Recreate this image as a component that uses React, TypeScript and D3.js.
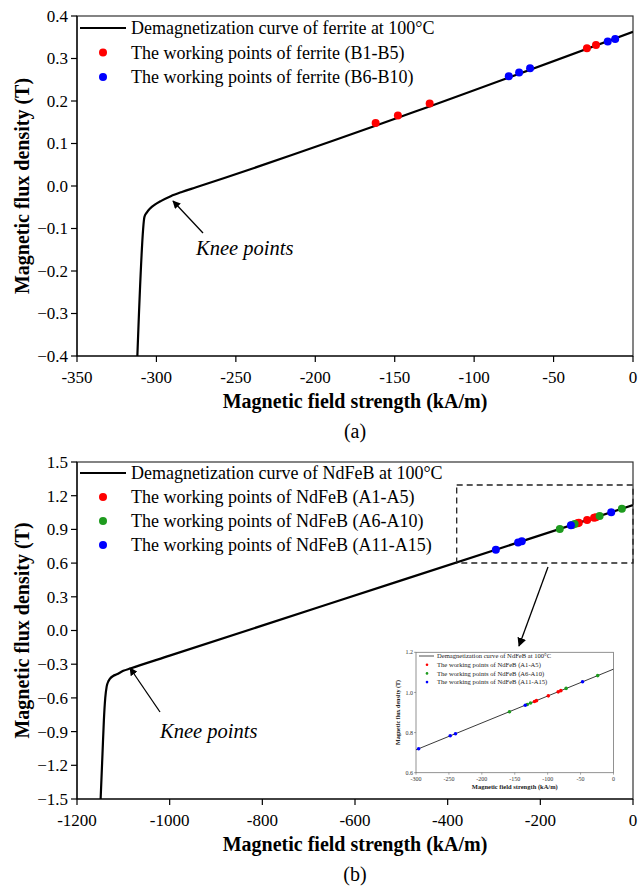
import React from "react";
import * as d3 from "d3";

// ---------- DATA ----------
// (a) ferrite
const ferriteCurveH = [-312, -307.5, -306, -304, -301, -297, -291, -284, -275, 0];
const ferriteCurveB = [-0.4, -0.072, -0.062, -0.053, -0.044, -0.035, -0.024, -0.014, -0.003, 0.363];
const ferriteB1H = [-162, -148, -128, -29, -23.3];
const ferriteB1B = [0.148, 0.166, 0.194, 0.324, 0.332];
const ferriteB6H = [-78.2, -71.7, -64.8, -15.9, -11.2];
const ferriteB6B = [0.258, 0.267, 0.277, 0.34, 0.346];
const ferriteXTicks = [-350, -300, -250, -200, -150, -100, -50, 0];
const ferriteYTicks = [-0.4, -0.3, -0.2, -0.1, 0.0, 0.1, 0.2, 0.3, 0.4];

// (b) NdFeB
const ndCurveH = [-1149, -1145, -1142, -1139, -1136, -1132, -1128, -1122, -1114, -1100, -1085, -1000, -500, 0];
const ndCurveB = [-1.5, -1.1, -0.8, -0.6, -0.5, -0.45, -0.425, -0.405, -0.39, -0.359, -0.338, -0.224, 0.446, 1.116];
const ndA1H = [-120, -117, -99, -84, -80];
const ndA1B = [0.955, 0.959, 0.983, 1.003, 1.009];
const ndA6H = [-158, -131, -126, -72, -24];
const ndA6B = [0.904, 0.94, 0.947, 1.02, 1.084];
const ndA11H = [-296, -248, -240, -134, -47];
const ndA11B = [0.719, 0.784, 0.794, 0.936, 1.053];
const ndXTicks = [-1200, -1000, -800, -600, -400, -200, 0];
const ndYTicks = [-1.5, -1.2, -0.9, -0.6, -0.3, 0.0, 0.3, 0.6, 0.9, 1.2, 1.5];
const insetXTicks = [-300, -250, -200, -150, -100, -50, 0];
const insetYTicks = [0.6, 0.8, 1.0, 1.2];

const legendA = [
  "Demagnetization curve of ferrite at 100\u00b0C",
  "The working points of ferrite (B1-B5)",
  "The working points of ferrite (B6-B10)",
];
const legendB = [
  "Demagnetization curve of NdFeB at 100\u00b0C",
  "The working points of NdFeB (A1-A5)",
  "The working points of NdFeB (A6-A10)",
  "The working points of NdFeB (A11-A15)",
];

const FONT = "'Liberation Serif', 'Times New Roman', serif";
const RED = "#ff0000";
const GREEN = "#1e9b1e";
const BLUE = "#0000ff";

type Series = { h: number[]; b: number[]; color: string };

function zip(h: number[], b: number[]): [number, number][] {
  return h.map((v, i) => [v, b[i]]);
}

function Panel(props: {
  x0: number; x1: number; y0: number; y1: number;
  xDomain: [number, number]; yDomain: [number, number];
  xTicks: number[]; yTicks: number[];
  curveH: number[]; curveB: number[];
  series: Series[];
  legend: string[];
  legendY0: number; legendStep: number;
  knee: { tx: number; ty: number; hx: number; hy: number; lx: number; ly: number };
  label: string;
  id: string;
}) {
  const { x0, x1, y0, y1 } = props;
  const x = d3.scaleLinear().domain(props.xDomain).range([x0, x1]);
  const y = d3.scaleLinear().domain(props.yDomain).range([y1, y0]);
  const line = d3.line<[number, number]>().x((d) => x(d[0])).y((d) => y(d[1])).curve(d3.curveMonotoneX);
  const path = line(zip(props.curveH, props.curveB)) || "";
  const fmt = d3.format(".1f");
  const k = props.knee;
  const colors = props.series.map((s) => s.color);
  return (
    <g>
      <defs>
        <clipPath id={props.id + "clip"}>
          <rect x={x0} y={y0} width={x1 - x0} height={y1 - y0} />
        </clipPath>
      </defs>
      <rect x={x0} y={y0} width={x1 - x0} height={y1 - y0} fill="none" stroke="#333" strokeWidth={1.2} />
      {props.xTicks.map((t) => (
        <g key={"x" + t}>
          <line x1={x(t)} x2={x(t)} y1={y1} y2={y1 + 6} stroke="#000" strokeWidth={1.2} />
          <text x={x(t)} y={y1 + 27} textAnchor="middle" fontSize={17} fontFamily={FONT}>{t}</text>
        </g>
      ))}
      {props.yTicks.map((t) => (
        <g key={"y" + t}>
          <line x1={x0 - 6} x2={x0} y1={y(t)} y2={y(t)} stroke="#000" strokeWidth={1.2} />
          <text x={x0 - 9} y={y(t)} dy="0.35em" textAnchor="end" fontSize={17} fontFamily={FONT}>{fmt(t)}</text>
        </g>
      ))}
      <line x1={x0} x2={x1} y1={y1} y2={y1} stroke="#000" strokeWidth={1.2} />
      <line x1={x0} x2={x0} y1={y0} y2={y1} stroke="#000" strokeWidth={1.2} />
      <text x={(x0 + x1) / 2} y={y1 + 52} textAnchor="middle" fontSize={20} fontWeight="bold" fontFamily={FONT}>
        Magnetic field strength (kA/m)
      </text>
      <text transform={`translate(${22},${(y0 + y1) / 2}) rotate(-90)`} dy="0.35em" textAnchor="middle" fontSize={20} fontWeight="bold" fontFamily={FONT}>
        Magnetic flux density (T)
      </text>
      <text x={(x0 + x1) / 2} y={y1 + 82} textAnchor="middle" fontSize={20} fontFamily={FONT}>{props.label}</text>
      <g clipPath={`url(#${props.id}clip)`}>
        <path d={path} fill="none" stroke="#000" strokeWidth={2.2} />
        {props.series.map((s, si) =>
          s.h.map((h, i) => <circle key={si + "-" + i} cx={x(h)} cy={y(s.b[i])} r={4} fill={s.color} />)
        )}
      </g>
      {/* legend */}
      <line x1={80} x2={126} y1={props.legendY0} y2={props.legendY0} stroke="#000" strokeWidth={2.2} />
      {props.legend.map((t, i) => (
        <g key={"lg" + i}>
          {i > 0 && <circle cx={103} cy={props.legendY0 + i * props.legendStep} r={4} fill={colors[i - 1]} />}
          <text x={131} y={props.legendY0 + i * props.legendStep} dy="0.35em" fontSize={18} fontFamily={FONT}>{t}</text>
        </g>
      ))}
      {/* knee annotation */}
      <line x1={k.tx} y1={k.ty} x2={k.hx} y2={k.hy} stroke="#000" strokeWidth={1.3} markerEnd="url(#arrowHead)" />
      <text x={k.lx} y={k.ly} fontSize={20.5} fontStyle="italic" fontFamily={FONT}>Knee points</text>
    </g>
  );
}

function Inset() {
  const x0 = 416, x1 = 613.5, y0 = 652.3, y1 = 772.7;
  const x = d3.scaleLinear().domain([-300, 0]).range([x0, x1]);
  const y = d3.scaleLinear().domain([0.6, 1.2]).range([y1, y0]);
  const line = d3.line<[number, number]>().x((d) => x(d[0])).y((d) => y(d[1]));
  const path = line(zip(ndCurveH, ndCurveB)) || "";
  const fmt = d3.format(".1f");
  const series: Series[] = [
    { h: ndA1H, b: ndA1B, color: RED },
    { h: ndA6H, b: ndA6B, color: GREEN },
    { h: ndA11H, b: ndA11B, color: BLUE },
  ];
  const leg = legendB;
  const ly0 = 656, ls = 8.7;
  return (
    <g>
      <defs>
        <clipPath id="insetclip">
          <rect x={x0} y={y0} width={x1 - x0} height={y1 - y0} />
        </clipPath>
      </defs>
      <rect x={x0} y={y0} width={x1 - x0} height={y1 - y0} fill="#fff" stroke="#777" strokeWidth={0.8} />
      {insetXTicks.map((t) => (
        <g key={"ix" + t}>
          <line x1={x(t)} x2={x(t)} y1={y1} y2={y1 + 2} stroke="#555" strokeWidth={0.5} />
          <text x={x(t)} y={y1 + 8} textAnchor="middle" fontSize={6} fill="#333" fontFamily={FONT}>{t}</text>
        </g>
      ))}
      {insetYTicks.map((t) => (
        <g key={"iy" + t}>
          <line x1={x0 - 2} x2={x0} y1={y(t)} y2={y(t)} stroke="#555" strokeWidth={0.5} />
          <text x={x0 - 3} y={y(t)} dy="0.35em" textAnchor="end" fontSize={6} fill="#333" fontFamily={FONT}>{fmt(t)}</text>
        </g>
      ))}
      <text x={(x0 + x1) / 2} y={y1 + 16} textAnchor="middle" fontSize={6.5} fontWeight="bold" fill="#222" fontFamily={FONT}>
        Magnetic field strength (kA/m)
      </text>
      <text transform={`translate(${x0 - 16},${(y0 + y1) / 2}) rotate(-90)`} textAnchor="middle" fontSize={6} fontWeight="bold" fill="#222" fontFamily={FONT}>
        Magnetic flux density (T)
      </text>
      <g clipPath="url(#insetclip)">
        <path d={path} fill="none" stroke="#222" strokeWidth={0.9} />
        {series.map((s, si) =>
          s.h.map((h, i) => <circle key={si + "-" + i} cx={x(h)} cy={y(s.b[i])} r={1.8} fill={s.color} />)
        )}
      </g>
      <line x1={419} x2={434} y1={ly0} y2={ly0} stroke="#222" strokeWidth={0.8} />
      {leg.map((t, i) => (
        <g key={"il" + i}>
          {i > 0 && <circle cx={427} cy={ly0 + i * ls} r={1.3} fill={series[i - 1].color} />}
          <text x={437} y={ly0 + i * ls} dy="0.35em" fontSize={6.6} fill="#222" fontFamily={FONT}>{t}</text>
        </g>
      ))}
    </g>
  );
}

export default function App() {
  return (
    <svg width={641} height={890} style={{ position: "absolute", left: 0, top: 0, background: "#fff" }}>
      <defs>
        <marker id="arrowHead" viewBox="0 0 10 10" refX="9" refY="5" markerWidth="8" markerHeight="8" markerUnits="userSpaceOnUse" orient="auto">
          <path d="M0,0 L10,5 L0,10 z" fill="#000" />
        </marker>
        <marker id="arrowHead2" viewBox="0 0 10 10" refX="9" refY="5" markerWidth="9" markerHeight="9" markerUnits="userSpaceOnUse" orient="auto">
          <path d="M0,0 L10,5 L0,10 z" fill="#000" />
        </marker>
      </defs>
      <rect x={0} y={0} width={641} height={890} fill="#fff" />
      <Panel
        id="a"
        x0={77} x1={633} y0={16} y1={356}
        xDomain={[-350, 0]} yDomain={[-0.4, 0.4]}
        xTicks={ferriteXTicks} yTicks={ferriteYTicks}
        curveH={ferriteCurveH} curveB={ferriteCurveB}
        series={[
          { h: ferriteB1H, b: ferriteB1B, color: RED },
          { h: ferriteB6H, b: ferriteB6B, color: BLUE },
        ]}
        legend={legendA}
        legendY0={28} legendStep={24.5}
        knee={{ tx: 203, ty: 233, hx: 173, hy: 201, lx: 196, ly: 255 }}
        label="(a)"
      />
      <Panel
        id="b"
        x0={77} x1={633} y0={462} y1={799}
        xDomain={[-1200, 0]} yDomain={[-1.5, 1.5]}
        xTicks={ndXTicks} yTicks={ndYTicks}
        curveH={ndCurveH} curveB={ndCurveB}
        series={[
          { h: ndA1H, b: ndA1B, color: RED },
          { h: ndA6H, b: ndA6B, color: GREEN },
          { h: ndA11H, b: ndA11B, color: BLUE },
        ]}
        legend={legendB}
        legendY0={473} legendStep={24}
        knee={{ tx: 160, ty: 712, hx: 130, hy: 668, lx: 160, ly: 738 }}
        label="(b)"
      />
      <rect x={456.7} y={485} width={633 - 456.7} height={563 - 485} fill="none" stroke="#222" strokeWidth={1.3} strokeDasharray="6,4" />
      <line x1={548} y1={567} x2={519} y2={646} stroke="#000" strokeWidth={1.3} markerEnd="url(#arrowHead2)" />
      <Inset />
    </svg>
  );
}
